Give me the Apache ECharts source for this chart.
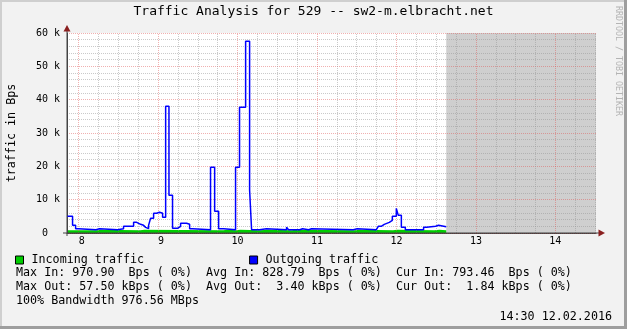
<!DOCTYPE html>
<html><head><meta charset="utf-8">
<script src="https://cdn.jsdelivr.net/npm/echarts@6/dist/echarts.min.js"></script>
<style>html,body{margin:0;padding:0;background:#f2f2f2;}#c{width:627px;height:329px;}</style>
</head><body><div id="c"></div>
<script>
// ---- data (time in minutes since midnight, values in Bytes/s) ----
const outTimes  = [471.2,475.4,477.7,480.0,493.1,495.8,509.4,513.9,521.5,523.8,526.8,529.0,530.6,532.8,534.3,536.6,538.9,541.1,543.4,545.7,548.2,550.9,554.7,557.0,561.5,563.8,566.0,579.6,582.7,585.7,589.5,598.5,601.5,606.1,609.1,610.6,616.6,621.9,637.0,638.5,646.9,649.1,653.6,655.9,687.4,690.4,704.8,706.3,708.5,710.8,712.3,714.6,716.9,719.9,721.4,723.7,726.7,740.5,742.8,749.6,751.8,757.6];
const outValues = [5000,2300,1300,1000,1300,1000,1300,2000,3200,2600,2300,1700,1300,2300,4400,5900,6200,5900,4700,38000,11300,1400,2000,2900,2600,1300,1000,19700,6500,1300,1000,19700,37700,57500,12900,1000,1300,1000,1700,1000,1300,1000,1300,1000,1300,1000,1400,2000,2600,2900,3200,3800,5000,7400,5300,1700,1000,1700,2000,2300,1850,1850];
const inTimes   = [471.2,493.9,496.9,526.6,529.6,589.2,592.3,599.0,602.0,617.2,623.0,641.1,643.6,688.2,692.7,717.4,720.4,748.6,752.4,757.6];
const inValues  = [830,970,830,960,830,950,830,960,830,940,830,950,830,950,830,960,830,950,793,793];
const unknownFrom = 757.6;            // no data after this time (grey)
const xMin = 471.2, xMax = 870.7;     // 07:51 .. 14:30
const hourTicks  = [480,540,600,660,720,780,840];
const hourLabels = [' 8',' 9','10','11','12','13','14'];
const yTicks = [0,10000,20000,30000,40000,50000,60000];
const yLabels = ['0  ','10 k','20 k','30 k','40 k','50 k','60 k'];
const seriesNames = ['Incoming traffic','Outgoing traffic'];
const statRows = [
  'Max In: 970.90  Bps ( 0%)  Avg In: 828.79  Bps ( 0%)  Cur In: 793.46  Bps ( 0%)',
  'Max Out: 57.50 kBps ( 0%)  Avg Out:  3.40 kBps ( 0%)  Cur Out:  1.84 kBps ( 0%)',
  '100% Bandwidth 976.56 MBps'
];
const stamp = '14:30 12.02.2016';
const titleText = 'Traffic Analysis for 529 -- sw2-m.elbracht.net';

// ---- styles ----
const FONT = '"DejaVu Sans Mono", monospace';
const GREEN = '#00cc00', BLUE = '#0000ff';
const MINOR = 'rgba(150,150,150,0.5)', MAJOR = 'rgba(222,79,79,0.45)';
const AXIS = '#444', ARROW = '#8a1f1f';

const zip = (a,b) => a.map((v,i)=>[v,b[i]]);
const gridLines = [];
for (let m = 480; m <= 870; m += 15) {
  const major = hourTicks.indexOf(m) >= 0;
  gridLines.push({xAxis: m, lineStyle: {color: major ? MAJOR : MINOR, type: [1,1], width: 1}});
}

const chart = echarts.init(document.getElementById('c'), null, {renderer: 'canvas'});
const base = {
  animation: false,
  backgroundColor: '#f2f2f2',
  title: {text: titleText, left: 'center', top: 5, padding: 0,
    textStyle: {fontFamily: FONT, fontSize: 13, fontWeight: 'normal', color: '#000'}},
  legend: {
    left: 15, top: 254, itemWidth: 8, itemHeight: 8, itemGap: 105, padding: 0,
    textStyle: {fontFamily: FONT, fontSize: 11.7, color: '#000', padding: [0,0,0,3]},
    selectedMode: false,
    data: [
      {name: seriesNames[0], icon: 'rect', itemStyle: {color: GREEN, borderColor: '#000', borderWidth: 1}},
      {name: seriesNames[1], icon: 'rect', itemStyle: {color: BLUE, borderColor: '#000', borderWidth: 1}}
    ]
  },
  grid: {left: 67, top: 33, width: 529, height: 200, show: true, backgroundColor: '#fff', borderWidth: 0,
    containLabel: false, outerBoundsMode: 'none'},
  xAxis: {
    type: 'value', min: xMin, max: xMax,
    axisLine: {show: true, lineStyle: {color: AXIS, width: 1}},
    axisTick: {show: false},
    splitLine: {show: false},
    axisLabel: {customValues: hourTicks, margin: 3, color: '#000', fontFamily: FONT, fontSize: 10,
      formatter: v => hourLabels[hourTicks.indexOf(Math.round(v))] || ''}
  },
  yAxis: {
    type: 'value', min: 0, max: 60000, interval: 10000, z: 3,
    name: 'traffic in Bps', nameLocation: 'middle', nameGap: 49.5, nameRotate: 90,
    nameTextStyle: {fontFamily: FONT, fontSize: 11.7, color: '#000'},
    axisLine: {show: true, lineStyle: {color: AXIS, width: 1}},
    axisTick: {show: false},
    axisLabel: {margin: 7, color: '#000', fontFamily: FONT, fontSize: 10,
      formatter: v => yLabels[yTicks.indexOf(v)]},
    splitLine: {show: true, lineStyle: {color: MAJOR, type: [1,1], width: 1}},
    minorTick: {show: false, splitNumber: 5},
    minorSplitLine: {show: true, lineStyle: {color: MINOR, type: [1,1], width: 1}}
  },
  series: [
    {name: seriesNames[0], type: 'line', step: 'end', data: zip(inTimes, inValues), z: 2,
      showSymbol: false, symbol: 'none', itemStyle: {color: GREEN},
      lineStyle: {width: 0}, areaStyle: {color: GREEN, opacity: 1},
      markArea: {silent: true, itemStyle: {color: '#cfcfcf', opacity: 1},
        data: [[{xAxis: unknownFrom}, {xAxis: xMax}]]}},
    {name: '_grid', type: 'line', data: [], z: 3,
      markLine: {silent: true, symbol: ['none','none'], label: {show: false}, data: gridLines}},
    {name: seriesNames[1], type: 'line', step: 'end', data: zip(outTimes, outValues), z: 5,
      showSymbol: false, symbol: 'none', itemStyle: {color: BLUE},
      lineStyle: {width: 1.5, color: BLUE}}
  ]
};
chart.setOption(base);

// ---- frame, arrows, texts ----
const p0 = chart.convertToPixel({gridIndex: 0}, [xMin, 0]);
const pR = chart.convertToPixel({gridIndex: 0}, [xMax, 0]);
const pT = chart.convertToPixel({gridIndex: 0}, [xMin, 60000]);
const txt = (id, text, x, y, extra) => Object.assign({id, type: 'text', x, y, z: 10,
  style: Object.assign({text, font: '11.7px ' + FONT, fill: '#000', textAlign: 'left', textVerticalAlign: 'middle'}, extra || {})});
const graphics = [
  {id: 'bt', type: 'rect', shape: {x: 0, y: 0, width: 627, height: 2}, style: {fill: '#cfcfcf'}},
  {id: 'bl', type: 'rect', shape: {x: 0, y: 0, width: 2, height: 329}, style: {fill: '#cfcfcf'}},
  {id: 'br', type: 'rect', shape: {x: 624, y: 0, width: 3, height: 329}, style: {fill: '#9e9e9e'}},
  {id: 'bb', type: 'rect', shape: {x: 0, y: 326, width: 627, height: 3}, style: {fill: '#9e9e9e'}},
  {id: 'ax', type: 'line', z: 10, shape: {x1: p0[0] - 4, y1: p0[1], x2: pR[0] + 3, y2: p0[1]}, style: {stroke: AXIS, lineWidth: 1}},
  {id: 'ay', type: 'line', z: 10, shape: {x1: p0[0], y1: p0[1] + 3, x2: p0[0], y2: pT[1] - 2}, style: {stroke: AXIS, lineWidth: 1}},
  {id: 'arx', type: 'polygon', z: 11, shape: {points: [[pR[0] + 2.5, p0[1] - 3.5], [pR[0] + 9, p0[1]], [pR[0] + 2.5, p0[1] + 3.5]]}, style: {fill: ARROW}},
  {id: 'ary', type: 'polygon', z: 11, shape: {points: [[p0[0] - 3.5, pT[1] - 1.5], [p0[0], pT[1] - 8], [p0[0] + 3.5, pT[1] - 1.5]]}, style: {fill: ARROW}},
  {id: 'wm', type: 'text', x: 618.5, y: 61, rotation: -Math.PI / 2, z: 10,
    style: {text: 'RRDTOOL / TOBI OETIKER', font: '8.3px ' + FONT, fill: '#b4b4b4', textAlign: 'center', textVerticalAlign: 'middle'}},
  txt('r1', statRows[0], 16, 273),
  txt('r2', statRows[1], 16, 287),
  txt('r3', statRows[2], 16, 301),
  txt('st', stamp, 612, 317, {textAlign: 'right'})
];
chart.setOption({graphic: graphics});
</script></body></html>
